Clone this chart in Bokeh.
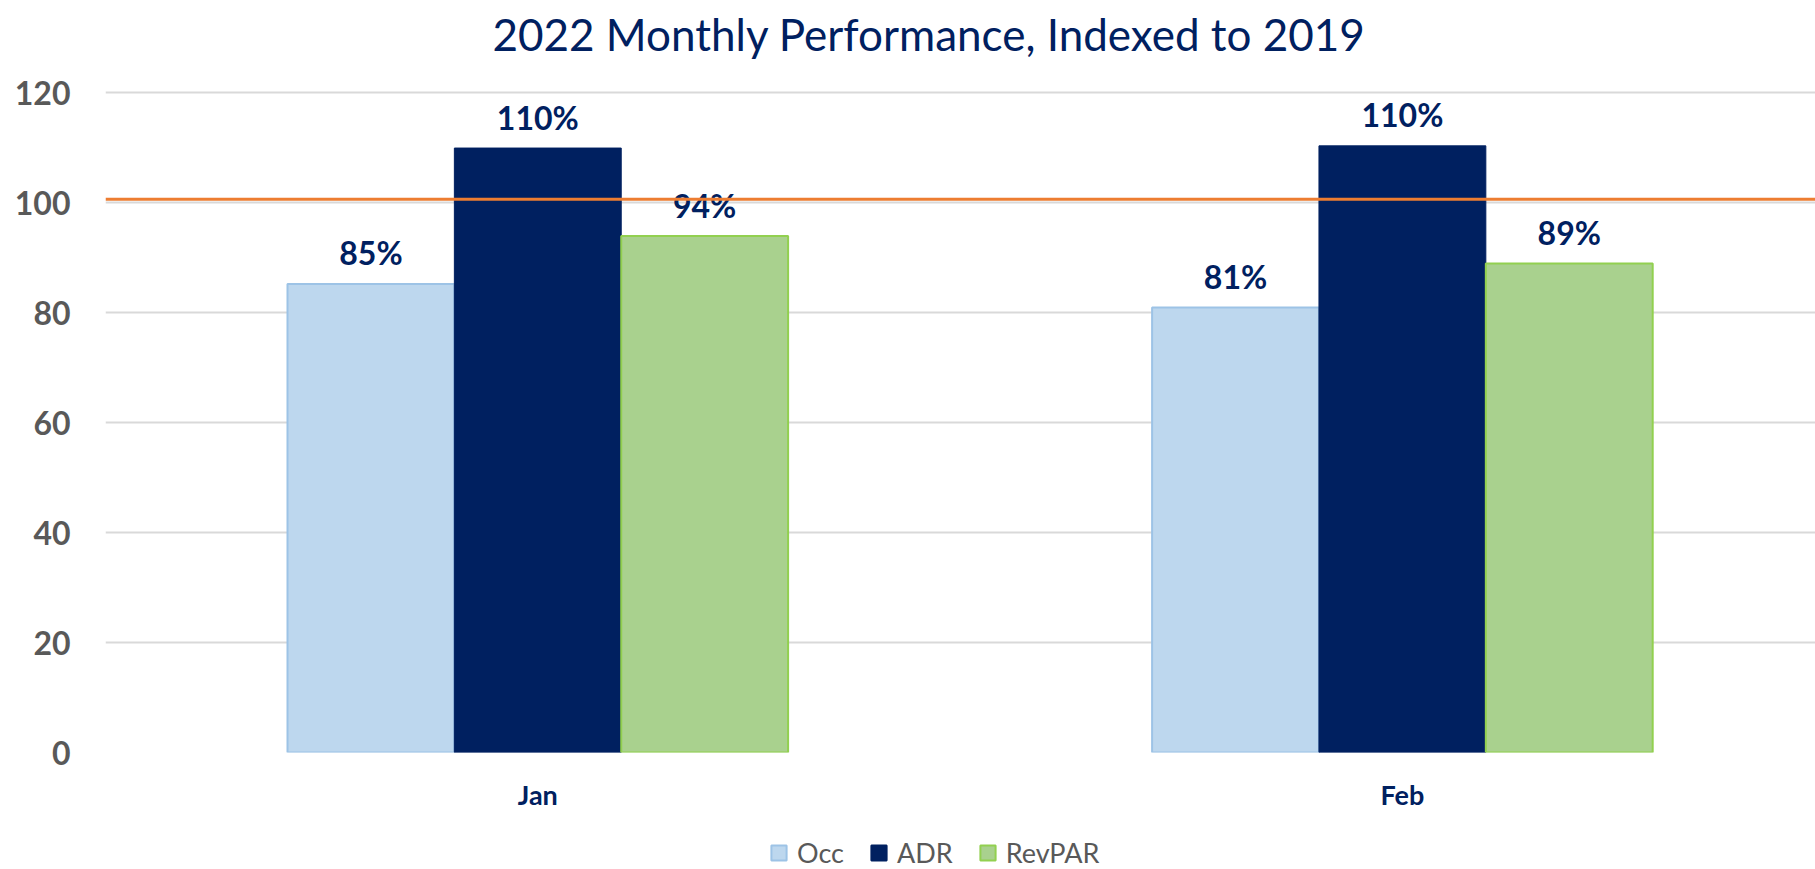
from bokeh.plotting import figure
from bokeh.models import ColumnDataSource, Range1d, FixedTicker, Legend, LegendItem, Span
from bokeh.layouts import column
from bokeh.transform import dodge
from bokeh.core.properties import value
from bokeh.embed import file_html
from bokeh.resources import INLINE

# ---- data ----
months = ["Jan", "Feb"]
series = ["Occ", "ADR", "RevPAR"]
occ = [85.2, 80.9]
adr = [109.9, 110.3]
revpar = [93.9, 88.9]
occ_labels = ["85%", "81%"]
adr_labels = ["110%", "110%"]
revpar_labels = ["94%", "89%"]
reference_level = 100.6
y_ticks = [0, 20, 40, 60, 80, 100, 120]
title_text = "2022 Monthly Performance, Indexed to 2019"

pos = [i + 0.5 for i in range(len(months))]
src = ColumnDataSource(dict(x=pos, occ=occ, adr=adr, revpar=revpar,
                            occ_l=occ_labels, adr_l=adr_labels, revpar_l=revpar_labels))

W, H = 1815, 869
H1 = 824
H2 = H - H1
LEFT, TOP = 105, 65
ZERO_Y = 752
BOTTOM = H1 - ZERO_Y
frame_w = W - LEFT
frame_h = H1 - TOP - BOTTOM
cat_px = 864.6
px_per_unit = 5.5

p = figure(width=W, height=H1, output_backend="svg", toolbar_location=None,
           x_range=Range1d(0, frame_w / cat_px), y_range=Range1d(0, frame_h / px_per_unit),
           min_border_left=LEFT, min_border_right=0, min_border_top=TOP, min_border_bottom=BOTTOM)
p.outline_line_color = None
p.background_fill_color = "white"
p.border_fill_color = "white"

bw = 0.193
styles = [("occ", -bw, "#BDD7EE", "#9DC3E6", 2),
          ("adr", 0.0, "#002060", "#002060", 1),
          ("revpar", bw, "#A9D18E", "#92D050", 2)]
for key, off, fc, lc, lw in styles:
    p.vbar(x=dodge("x", off, range=p.x_range), top=key, width=bw, source=src,
           fill_color=fc, line_color=lc, line_width=lw)

p.add_layout(Span(location=reference_level, dimension="width", line_color="#ED7D31", line_width=3))

lbl_font = value("Lato")
for key, off, fc, lc, lw in styles:
    p.text(x=dodge("x", off, range=p.x_range), y=key, text=key + "_l", source=src,
           text_align="center", text_baseline="alphabetic", y_offset=-31,
           text_font=lbl_font, text_font_style="bold", text_font_size="32px", text_color="#002060")

# axes
p.xaxis.ticker = FixedTicker(ticks=pos)
p.xaxis.major_label_overrides = {x: m for x, m in zip(pos, months)}
p.xaxis.major_label_text_font = "Lato"
p.xaxis.major_label_text_font_style = "bold"
p.xaxis.major_label_text_font_size = "27px"
p.xaxis.major_label_text_color = "#002060"
p.xaxis.major_label_standoff = 19
p.yaxis.ticker = FixedTicker(ticks=y_ticks)
p.yaxis.major_label_text_font = "Lato"
p.yaxis.major_label_text_font_style = "bold"
p.yaxis.major_label_text_font_size = "32px"
p.yaxis.major_label_text_color = "#595959"
p.yaxis.major_label_standoff = 29
for ax in (p.xaxis, p.yaxis):
    ax.axis_line_color = None
    ax.major_tick_line_color = None
    ax.minor_tick_line_color = None
p.xgrid.grid_line_color = None
p.ygrid.ticker = FixedTicker(ticks=y_ticks)
p.ygrid.grid_line_color = "#D9D9D9"
p.ygrid.grid_line_width = 2

# title
p.title.text = title_text
p.title.align = "left"
p.title.offset = 387
p.title.vertical_align = "top"
p.title.text_font = "Lato"
p.title.text_font_style = "normal"
p.title.text_font_size = "44px"
p.title.text_color = "#002060"
p.title.standoff = 8

# legend strip (frames are aligned with the main plot by the column layout)
p2 = figure(width=W, height=H2, output_backend="svg", toolbar_location=None,
            x_range=p.x_range, y_range=Range1d(-2, -1),
            min_border_left=LEFT, min_border_right=0, min_border_top=0, min_border_bottom=0)
p2.axis.visible = False
p2.grid.grid_line_color = None
p2.outline_line_color = None
items = []
for name, (key, off, fc, lc, lw) in zip(series, styles):
    r = p2.vbar(x=dodge("x", off, range=p2.x_range), top=key, width=bw, source=src,
                fill_color=fc, line_color=lc, line_width=2, visible=False)
    items.append(LegendItem(label=name, renderers=[r]))
legend = Legend(items=items, orientation="horizontal", location=(769 - LEFT, 0),
                glyph_width=19, glyph_height=19, label_standoff=9, spacing=25,
                padding=0, margin=0, border_line_color=None, background_fill_alpha=0,
                label_text_font="Lato", label_text_font_size="27px", label_text_color="#595959")
p2.add_layout(legend, "center")

layout = column(p, p2, spacing=0)
open("out.html", "w").write(file_html(layout, INLINE))
